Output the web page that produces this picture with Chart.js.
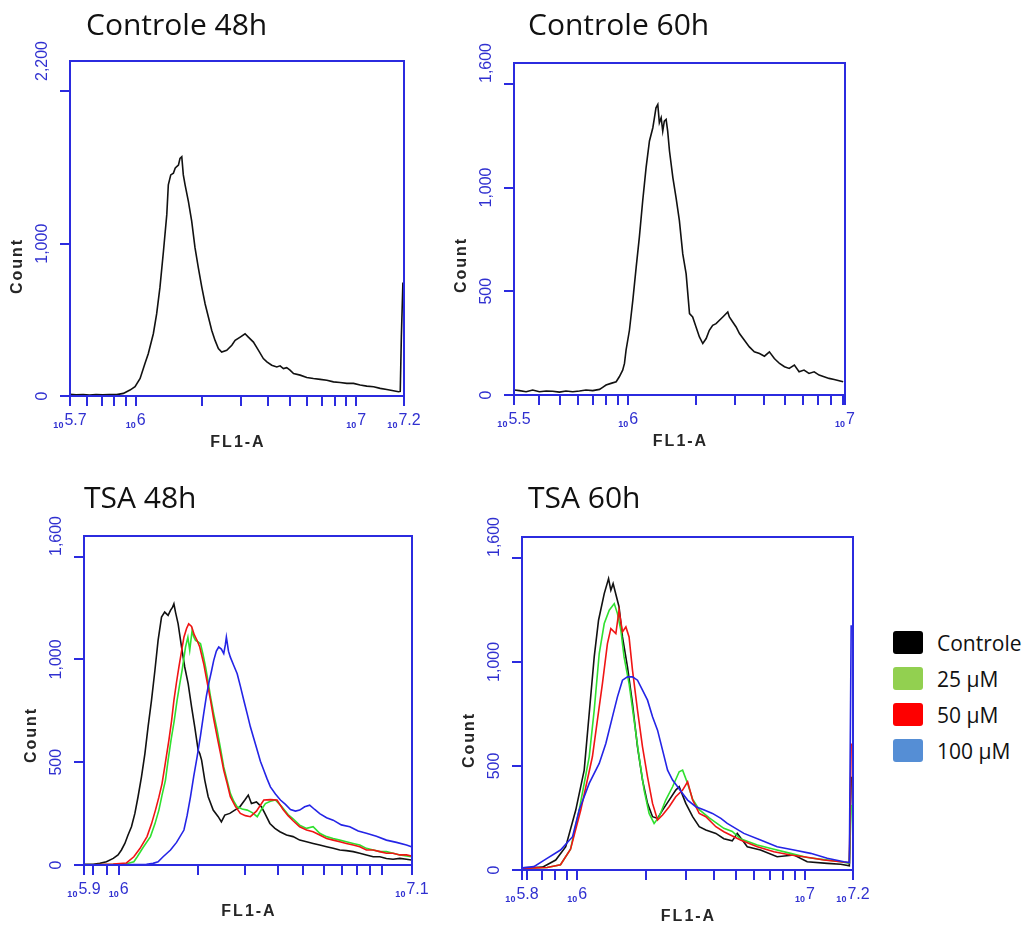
<!DOCTYPE html>
<html>
<head>
<meta charset="utf-8">
<script src="https://cdn.jsdelivr.net/npm/chart.js@4.4.1/dist/chart.umd.min.js"></script>
<style>
    body {
        margin: 0;
        width: 1027px;
        height: 926px;
        background: #fff;
        position: relative;
        overflow: hidden;
        font-family: 'Open Sans', sans-serif;
    }
    canvas { position: absolute; }
    .title {
        position: absolute;
        font-size: 30px;
        line-height: 30px;
        color: #111;
        white-space: nowrap;
    }
    .legend {
        position: absolute;
        left: 893px;
        top: 631px;
    }
    .legend-row {
        display: flex;
        align-items: center;
        height: 23px;
        margin-bottom: 13px;
        font-size: 21px;
        color: #111;
        white-space: nowrap;
    }
    .legend-swatch {
        width: 30px;
        height: 23px;
        border-radius: 3px;
        margin-right: 14px;
    }
</style>
</head>
<body>
<canvas id="p1"></canvas>
<canvas id="p2"></canvas>
<canvas id="p3"></canvas>
<canvas id="p4"></canvas>
<div class="title" style="left:86px;top:9px">Controle 48h</div>
<div class="title" style="left:528px;top:9px">Controle 60h</div>
<div class="title" style="left:84px;top:482px">TSA 48h</div>
<div class="title" style="left:528px;top:482px">TSA 60h</div>
<div class="legend" id="legend"></div>
<script>

// Controle 48h
const ctrl48Exp = [5.702, 5.730, 5.762, 5.790, 5.820, 5.850, 5.880, 5.914, 5.944, 5.974, 5.997, 6.020, 6.042, 6.057, 6.080, 6.095, 6.110, 6.126, 6.141, 6.148, 6.159, 6.171, 6.179, 6.186, 6.194, 6.201, 6.209, 6.216, 6.224, 6.239, 6.254, 6.269, 6.284, 6.300, 6.315, 6.330, 6.345, 6.360, 6.375, 6.390, 6.413, 6.436, 6.451, 6.474, 6.496, 6.511, 6.534, 6.557, 6.579, 6.595, 6.617, 6.640, 6.655, 6.670, 6.685, 6.700, 6.716, 6.746, 6.776, 6.806, 6.837, 6.867, 6.897, 6.927, 6.958, 6.988, 7.018, 7.048, 7.079, 7.109, 7.139, 7.169, 7.192, 7.200, 7.205, 7.212];
const ctrl48Count = [12, 8, 10, 7, 9, 8, 10, 9, 17, 39, 61, 115, 213, 278, 409, 539, 713, 952, 1191, 1387, 1452, 1463, 1496, 1507, 1517, 1561, 1572, 1452, 1387, 1278, 1148, 974, 843, 713, 604, 517, 430, 365, 311, 289, 300, 333, 365, 387, 409, 387, 354, 300, 246, 224, 202, 191, 198, 180, 186, 170, 148, 137, 122, 115, 109, 104, 93, 89, 83, 83, 72, 65, 61, 50, 43, 35, 28, 30, 387, 745];

// Controle 60h
const ctrl60Exp = [5.495, 5.517, 5.547, 5.576, 5.606, 5.636, 5.665, 5.695, 5.724, 5.754, 5.784, 5.813, 5.843, 5.873, 5.887, 5.902, 5.924, 5.947, 5.961, 5.976, 5.984, 5.991, 6.006, 6.021, 6.036, 6.050, 6.065, 6.080, 6.095, 6.110, 6.117, 6.124, 6.132, 6.139, 6.147, 6.154, 6.161, 6.169, 6.176, 6.184, 6.199, 6.213, 6.228, 6.243, 6.258, 6.273, 6.287, 6.302, 6.317, 6.332, 6.347, 6.361, 6.376, 6.391, 6.406, 6.421, 6.443, 6.450, 6.465, 6.480, 6.495, 6.517, 6.539, 6.561, 6.584, 6.606, 6.628, 6.650, 6.673, 6.695, 6.716, 6.739, 6.760, 6.782, 6.804, 6.827, 6.849, 6.871, 6.893, 6.916, 6.938, 6.956];
const ctrl60Count = [24, 21, 16, 24, 16, 19, 18, 14, 19, 16, 19, 24, 21, 27, 37, 48, 56, 64, 88, 120, 152, 216, 312, 456, 616, 760, 936, 1096, 1224, 1288, 1336, 1384, 1400, 1312, 1336, 1272, 1320, 1328, 1272, 1176, 1048, 952, 840, 680, 584, 392, 376, 328, 280, 248, 272, 312, 336, 344, 360, 376, 400, 376, 352, 328, 296, 264, 232, 208, 200, 187, 208, 176, 152, 136, 128, 144, 112, 120, 104, 112, 96, 88, 80, 75, 69, 64];

// TSA 48h
const tsa48CtrlExp = [5.870, 5.903, 5.928, 5.953, 5.979, 5.997, 6.010, 6.023, 6.035, 6.048, 6.061, 6.073, 6.086, 6.099, 6.111, 6.124, 6.137, 6.149, 6.162, 6.174, 6.187, 6.196, 6.204, 6.209, 6.215, 6.225, 6.238, 6.250, 6.263, 6.276, 6.288, 6.301, 6.307, 6.314, 6.326, 6.339, 6.358, 6.377, 6.389, 6.402, 6.421, 6.440, 6.459, 6.478, 6.491, 6.503, 6.522, 6.541, 6.554, 6.573, 6.592, 6.611, 6.636, 6.661, 6.686, 6.712, 6.737, 6.762, 6.788, 6.813, 6.838, 6.863, 6.889, 6.914, 6.939, 6.965, 6.990, 7.015, 7.040, 7.066, 7.091, 7.110];
const tsa48CtrlCount = [3, 4, 8, 16, 32, 49, 73, 105, 146, 186, 251, 332, 429, 542, 672, 801, 947, 1092, 1206, 1230, 1214, 1238, 1254, 1270, 1230, 1173, 1060, 963, 882, 769, 672, 558, 542, 510, 413, 332, 267, 235, 210, 243, 251, 267, 283, 316, 340, 299, 307, 283, 251, 202, 178, 162, 146, 138, 121, 113, 105, 97, 89, 81, 73, 70, 65, 57, 49, 40, 40, 32, 28, 32, 28, 24];
const tsa48D25Exp = [5.870, 5.979, 6.029, 6.057, 6.070, 6.092, 6.120, 6.137, 6.152, 6.164, 6.177, 6.187, 6.198, 6.210, 6.221, 6.231, 6.240, 6.253, 6.262, 6.269, 6.278, 6.284, 6.291, 6.301, 6.310, 6.320, 6.329, 6.339, 6.348, 6.360, 6.373, 6.386, 6.398, 6.411, 6.423, 6.436, 6.449, 6.468, 6.487, 6.506, 6.525, 6.541, 6.556, 6.575, 6.594, 6.617, 6.642, 6.661, 6.686, 6.712, 6.737, 6.762, 6.788, 6.813, 6.838, 6.863, 6.889, 6.914, 6.939, 6.965, 6.990, 7.015, 7.040, 7.066, 7.091, 7.110];
const tsa48D25Count = [0, 3, 6, 16, 40, 85, 138, 200, 267, 340, 413, 510, 607, 700, 801, 880, 947, 1060, 1108, 1044, 1141, 1110, 1092, 1085, 1076, 1020, 963, 890, 817, 735, 656, 565, 477, 410, 348, 310, 283, 272, 267, 255, 235, 270, 299, 310, 316, 285, 245, 225, 194, 178, 186, 154, 138, 129, 121, 113, 105, 97, 81, 73, 65, 65, 57, 49, 44, 40];
const tsa48D50Exp = [5.870, 5.928, 5.979, 6.029, 6.057, 6.080, 6.107, 6.124, 6.139, 6.152, 6.164, 6.177, 6.190, 6.200, 6.209, 6.219, 6.228, 6.238, 6.247, 6.257, 6.265, 6.276, 6.286, 6.297, 6.307, 6.322, 6.335, 6.348, 6.360, 6.373, 6.386, 6.398, 6.411, 6.423, 6.442, 6.461, 6.480, 6.499, 6.522, 6.550, 6.575, 6.600, 6.623, 6.642, 6.661, 6.686, 6.712, 6.737, 6.762, 6.788, 6.813, 6.838, 6.863, 6.889, 6.914, 6.939, 6.965, 6.990, 7.015, 7.040, 7.066, 7.091, 7.110];
const tsa48D50Count = [0, 2, 5, 10, 40, 80, 138, 200, 267, 330, 396, 500, 607, 700, 801, 890, 963, 1040, 1108, 1150, 1173, 1160, 1120, 1092, 1060, 979, 890, 801, 710, 623, 540, 461, 396, 332, 285, 251, 240, 235, 262, 316, 318, 316, 270, 240, 215, 186, 170, 162, 146, 129, 121, 113, 105, 97, 89, 73, 73, 65, 57, 57, 49, 49, 44];
const tsa48D100Exp = [5.870, 5.928, 6.004, 6.054, 6.105, 6.130, 6.149, 6.168, 6.196, 6.219, 6.247, 6.259, 6.272, 6.284, 6.297, 6.310, 6.322, 6.332, 6.341, 6.351, 6.360, 6.370, 6.379, 6.389, 6.398, 6.404, 6.408, 6.416, 6.423, 6.436, 6.449, 6.461, 6.474, 6.487, 6.499, 6.512, 6.525, 6.537, 6.550, 6.562, 6.575, 6.594, 6.613, 6.632, 6.651, 6.670, 6.686, 6.705, 6.724, 6.743, 6.762, 6.788, 6.813, 6.844, 6.876, 6.908, 6.939, 6.977, 7.015, 7.053, 7.091, 7.110];
const tsa48D100Count = [0, 0, 1, 2, 3, 8, 16, 40, 73, 110, 170, 240, 332, 430, 526, 630, 736, 820, 882, 940, 995, 1040, 1060, 1050, 1028, 1070, 1108, 1040, 1011, 970, 930, 870, 801, 735, 672, 615, 558, 505, 461, 420, 380, 345, 316, 295, 270, 262, 267, 283, 291, 270, 250, 230, 218, 195, 186, 165, 154, 140, 121, 110, 97, 89];

// TSA 60h
const tsa60CtrlExp = [5.760, 5.810, 5.848, 5.906, 5.950, 5.994, 6.031, 6.053, 6.075, 6.094, 6.119, 6.138, 6.148, 6.158, 6.173, 6.184, 6.199, 6.221, 6.243, 6.265, 6.287, 6.309, 6.331, 6.353, 6.375, 6.404, 6.433, 6.448, 6.477, 6.507, 6.536, 6.565, 6.609, 6.644, 6.681, 6.703, 6.747, 6.805, 6.878, 6.952, 7.010, 7.098, 7.157, 7.195, 7.203];
const tsa60CtrlCount = [10, 12, 14, 48, 112, 288, 480, 752, 1024, 1200, 1328, 1400, 1344, 1376, 1312, 1264, 1120, 976, 800, 592, 432, 320, 256, 248, 288, 336, 384, 400, 320, 256, 208, 192, 176, 150, 140, 176, 112, 96, 64, 72, 40, 32, 28, 20, 448];
const tsa60D25Exp = [5.760, 5.810, 5.868, 5.927, 5.971, 6.009, 6.053, 6.075, 6.097, 6.119, 6.141, 6.163, 6.177, 6.192, 6.206, 6.228, 6.250, 6.272, 6.294, 6.316, 6.338, 6.360, 6.389, 6.419, 6.448, 6.463, 6.485, 6.507, 6.536, 6.580, 6.644, 6.681, 6.717, 6.791, 6.864, 6.937, 7.010, 7.083, 7.157, 7.195, 7.203];
const tsa60D25Count = [8, 10, 12, 25, 100, 288, 544, 768, 1040, 1184, 1248, 1280, 1232, 1152, 1024, 896, 720, 544, 384, 272, 224, 256, 336, 400, 472, 480, 416, 340, 290, 250, 200, 185, 150, 120, 100, 80, 60, 50, 40, 32, 312];
const tsa60D50Exp = [5.760, 5.810, 5.868, 5.927, 5.971, 6.016, 6.067, 6.089, 6.111, 6.133, 6.148, 6.170, 6.184, 6.199, 6.214, 6.228, 6.243, 6.265, 6.287, 6.309, 6.331, 6.353, 6.375, 6.404, 6.433, 6.463, 6.485, 6.507, 6.536, 6.565, 6.609, 6.644, 6.717, 6.791, 6.864, 6.937, 7.010, 7.083, 7.157, 7.195, 7.203];
const tsa60D50Count = [8, 10, 12, 25, 100, 288, 544, 720, 896, 1088, 1160, 1136, 1248, 1144, 1168, 1120, 960, 768, 592, 448, 320, 240, 264, 304, 352, 384, 424, 336, 272, 256, 208, 184, 144, 112, 88, 72, 61, 48, 40, 35, 608];
const tsa60D100Exp = [5.760, 5.810, 5.868, 5.927, 5.980, 6.009, 6.053, 6.097, 6.126, 6.155, 6.177, 6.199, 6.221, 6.243, 6.265, 6.287, 6.309, 6.331, 6.353, 6.375, 6.397, 6.419, 6.441, 6.463, 6.485, 6.521, 6.558, 6.594, 6.631, 6.659, 6.732, 6.805, 6.878, 6.952, 7.025, 7.098, 7.171, 7.195, 7.203];
const tsa60D100Count = [10, 16, 56, 96, 160, 288, 416, 512, 608, 736, 832, 912, 928, 928, 912, 864, 816, 736, 672, 576, 480, 432, 400, 368, 336, 304, 288, 272, 248, 224, 176, 144, 112, 96, 80, 56, 40, 36, 1176];

// axes, one entry per panel
const xMinExp = [5.702, 5.493, 5.868, 5.758];
const xMaxExp = [7.217, 6.964, 7.112, 7.211];
const xLabelExp = [[5.702, 6, 7, 7.217], [5.493, 6, 6.964], [5.868, 6, 7.112], [5.758, 6, 7, 7.211]];
const xLabelText = [['5.7', '6', '7', '7.2'], ['5.5', '6', '7'], ['5.9', '6', '7.1'], ['5.8', '6', '7', '7.2']];
const yMax = [2200, 1600, 1600, 1600];
const yTickMarks = [[0, 1000, 2000], [0, 500, 1000, 1500], [0, 500, 1000, 1500], [0, 500, 1000, 1500]];
const yLabelValue = [[0, 1000, 2200], [0, 500, 1000, 1600], [0, 500, 1000, 1600], [0, 500, 1000, 1600]];
const yLabelText = [['0', '1,000', '2,200'], ['0', '500', '1,000', '1,600'], ['0', '500', '1,000', '1,600'], ['0', '500', '1,000', '1,600']];

const seriesNames = ['Controle', '25 µM', '50 µM', '100 µM'];
const lineColors = ['#111111', '#2fe02f', '#f01414', '#2424e6'];
const swatchColors = ['#000000', '#92d050', '#fe0000', '#558ed5'];

const AXIS_BLUE = '#2b2bdf';
const LABEL_BLUE = '#3030d0';
const SANS = "'Liberation Sans', Arial, sans-serif";
const TICK_LEN = 10;

const flowAxes = {
    id: 'flowAxes',
    afterDraw(chart, args, opts) {
        const { ctx, chartArea: a, scales: { x, y } } = chart;
        ctx.save();
        ctx.strokeStyle = AXIS_BLUE;
        ctx.lineWidth = 2;
        ctx.strokeRect(a.left, a.top, a.right - a.left, a.bottom - a.top);

        ctx.fillStyle = LABEL_BLUE;
        ctx.textAlign = 'left';
        ctx.textBaseline = 'alphabetic';
        opts.xExp.forEach((e, i) => {
            const px = x.getPixelForValue(10 ** e);
            const text = opts.xText[i];
            ctx.font = `bold 9px ${SANS}`;
            const wBase = ctx.measureText('10').width;
            ctx.font = `16px ${SANS}`;
            const wExp = ctx.measureText(text).width;
            const start = px - (wBase + 1 + wExp) / 2;
            ctx.font = `bold 9px ${SANS}`;
            ctx.fillText('10', start, a.bottom + 32);
            ctx.font = `16px ${SANS}`;
            ctx.fillText(text, start + wBase + 1, a.bottom + 29);
        });

        ctx.textAlign = 'center';
        ctx.textBaseline = 'middle';
        ctx.font = `16px ${SANS}`;
        opts.yValue.forEach((v, i) => {
            ctx.save();
            ctx.translate(a.left - 27, y.getPixelForValue(v));
            ctx.rotate(-Math.PI / 2);
            ctx.fillText(opts.yText[i], 0, 0);
            ctx.restore();
        });

        ctx.fillStyle = '#262626';
        ctx.font = `bold 16px ${SANS}`;
        ctx.letterSpacing = '2px';
        ctx.fillText('FL1-A', (a.left + a.right) / 2 + 1, a.bottom + 47);
        ctx.save();
        ctx.translate(a.left - 52, a.bottom - 129);
        ctx.rotate(-Math.PI / 2);
        ctx.fillText('Count', 1, 0);
        ctx.restore();
        ctx.restore();
    },
};

const logMarks = (lo, hi) => {
    const marks = [10 ** lo];
    for (let d = Math.floor(lo); d <= Math.ceil(hi); d++) {
        for (let k = 1; k < 10; k++) {
            const v = k * 10 ** d;
            if (v > 10 ** lo * 1.002 && v < 10 ** hi * 0.998) {
                marks.push(v);
            }
        }
    }
    marks.push(10 ** hi);
    return marks;
};

const toPoints = (exps, counts) => exps.map((e, i) => ({ x: 10 ** e, y: counts[i] }));

const panels = [
    { id: 'p1', canvas: [0, 38, 440, 422], box: [70, 61, 404, 396],
      series: [[ctrl48Exp, ctrl48Count, 0]] },
    { id: 'p2', canvas: [440, 38, 440, 422], box: [514, 63, 845, 395],
      series: [[ctrl60Exp, ctrl60Count, 0]] },
    { id: 'p3', canvas: [0, 500, 440, 426], box: [84, 536, 412, 865],
      series: [[tsa48CtrlExp, tsa48CtrlCount, 0], [tsa48D25Exp, tsa48D25Count, 1],
               [tsa48D50Exp, tsa48D50Count, 2], [tsa48D100Exp, tsa48D100Count, 3]] },
    { id: 'p4', canvas: [440, 500, 440, 426], box: [522, 537, 853, 870],
      series: [[tsa60CtrlExp, tsa60CtrlCount, 0], [tsa60D25Exp, tsa60D25Count, 1],
               [tsa60D50Exp, tsa60D50Count, 2], [tsa60D100Exp, tsa60D100Count, 3]] },
];

panels.forEach((panel, p) => {
    const [cx, cy, cw, ch] = panel.canvas;
    const [left, top, right, bottom] = panel.box;
    const canvas = document.getElementById(panel.id);
    canvas.width = cw;
    canvas.height = ch;
    canvas.style.left = `${cx}px`;
    canvas.style.top = `${cy}px`;

    const xMarks = logMarks(xMinExp[p], xMaxExp[p]);
    const axisGrid = {
        drawOnChartArea: false,
        drawTicks: true,
        tickLength: TICK_LEN,
        color: AXIS_BLUE,
        lineWidth: 2,
    };

    new Chart(canvas, {
        type: 'line',
        data: {
            datasets: panel.series.map(([exps, counts, s]) => ({
                label: seriesNames[s],
                data: toPoints(exps, counts),
                borderColor: lineColors[s],
                borderWidth: 1.6,
                pointRadius: 0,
                tension: 0,
                order: 4 - s,
            })),
        },
        options: {
            responsive: false,
            animation: false,
            devicePixelRatio: 1,
            events: [],
            layout: {
                padding: {
                    left: left - cx - TICK_LEN,
                    top: top - cy,
                    right: cx + cw - right,
                    bottom: cy + ch - bottom - TICK_LEN,
                },
            },
            plugins: {
                legend: { display: false },
                tooltip: { enabled: false },
                flowAxes: {
                    xExp: xLabelExp[p],
                    xText: xLabelText[p],
                    yValue: yLabelValue[p],
                    yText: yLabelText[p],
                },
            },
            scales: {
                x: {
                    type: 'logarithmic',
                    min: 10 ** xMinExp[p],
                    max: 10 ** xMaxExp[p],
                    afterBuildTicks: (scale) => {
                        scale.ticks = xMarks.map((value) => ({ value }));
                    },
                    ticks: { display: false },
                    grid: axisGrid,
                    border: { color: AXIS_BLUE, width: 2 },
                },
                y: {
                    type: 'linear',
                    min: 0,
                    max: yMax[p],
                    afterBuildTicks: (scale) => {
                        scale.ticks = yTickMarks[p].map((value) => ({ value }));
                    },
                    ticks: { display: false },
                    grid: axisGrid,
                    border: { color: AXIS_BLUE, width: 2 },
                },
            },
        },
        plugins: [flowAxes],
    });
});

const legend = document.getElementById('legend');
seriesNames.forEach((name, i) => {
    const row = document.createElement('div');
    row.className = 'legend-row';
    const swatch = document.createElement('span');
    swatch.className = 'legend-swatch';
    swatch.style.background = swatchColors[i];
    row.appendChild(swatch);
    row.appendChild(document.createTextNode(name));
    legend.appendChild(row);
});
</script>
</body>
</html>
